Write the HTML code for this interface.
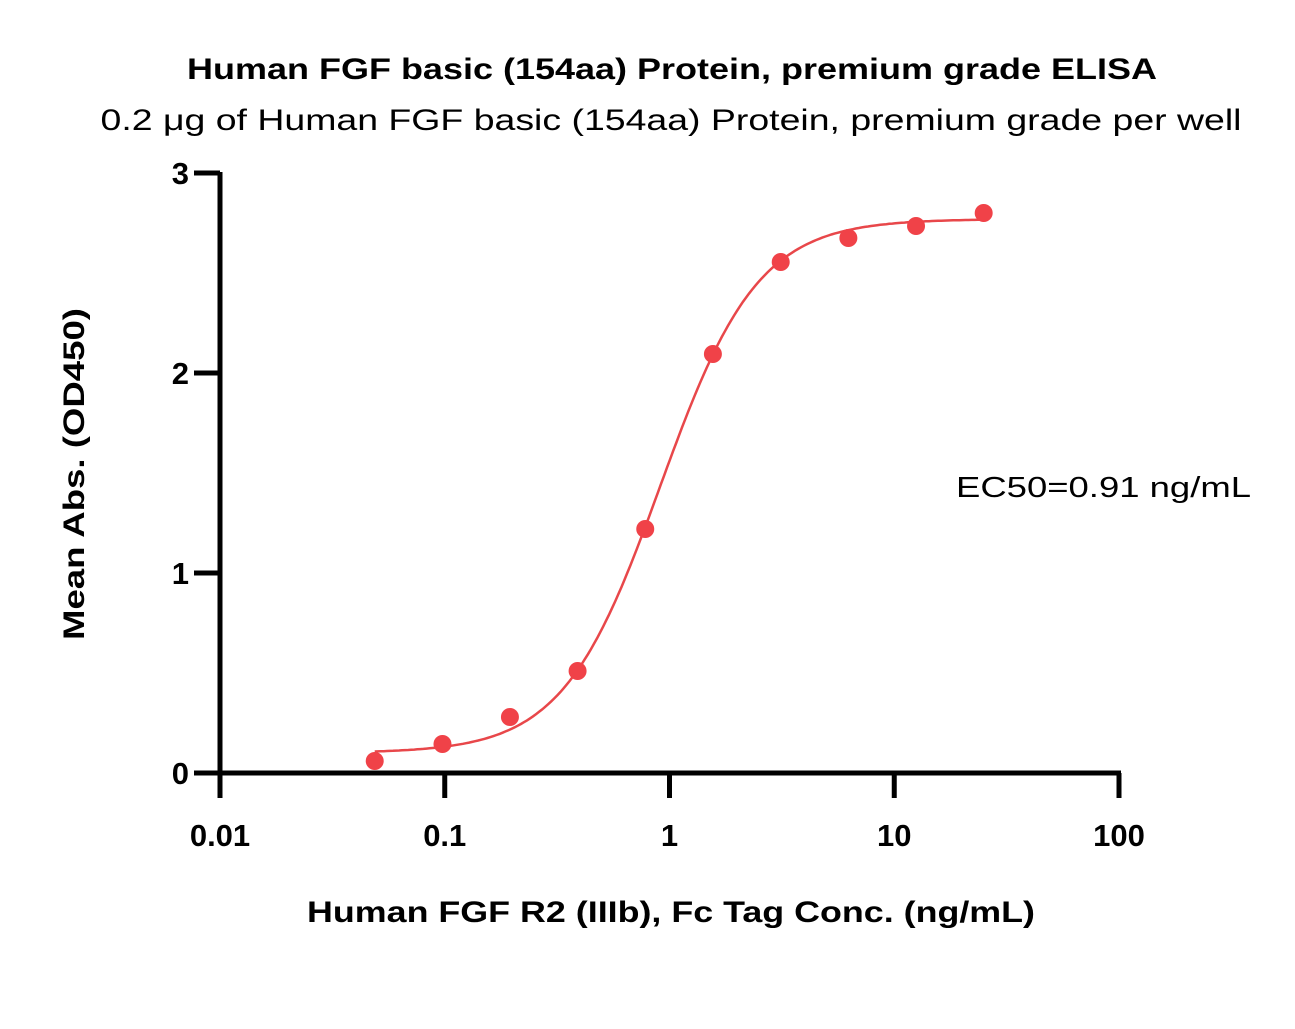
<!DOCTYPE html>
<html><head><meta charset="utf-8"><style>body{margin:0;background:#fff}svg{display:block}text{font-family:"Liberation Sans",sans-serif}</style></head>
<body>
<svg id="chart" width="1295" height="1029" xmlns="http://www.w3.org/2000/svg">
<text x="672" y="79" text-anchor="middle" font-size="30" font-weight="bold" textLength="970" lengthAdjust="spacingAndGlyphs">Human FGF basic (154aa) Protein, premium grade ELISA</text>
<text x="671" y="130" text-anchor="middle" font-size="30" textLength="1141" lengthAdjust="spacingAndGlyphs">0.2 μg of Human FGF basic (154aa) Protein, premium grade per well</text>
<text transform="translate(84,474) rotate(-90)" text-anchor="middle" font-size="30" font-weight="bold" textLength="332" lengthAdjust="spacingAndGlyphs">Mean Abs. (OD450)</text>
<text x="671" y="922" text-anchor="middle" font-size="30" font-weight="bold" textLength="728" lengthAdjust="spacingAndGlyphs">Human FGF R2 (IIIb), Fc Tag Conc. (ng/mL)</text>
<text x="956" y="497" font-size="29" textLength="295" lengthAdjust="spacingAndGlyphs">EC50=0.91 ng/mL</text>
<g id="axes"></g><g id="marks"></g>
</svg>
<script>
const xTicks=[0.01,0.1,1,10,100];
const xTickLabels=["0.01","0.1","1","10","100"];
const yTicks=[0,1,2,3];
const yTickLabels=["0","1","2","3"];
const conc=[0.0488,0.0977,0.195,0.39,0.78,1.56,3.125,6.25,12.5,25];
const absorb=[0.06,0.145,0.28,0.51,1.22,2.095,2.555,2.675,2.735,2.8];
const fitBottom=0.1, fitTop=2.77, fitEC50=0.91, fitHill=2.0;
const NS="http://www.w3.org/2000/svg";
const X=v=>220+(Math.log10(v)+2)*224.75;
const Y=v=>773-v*200;
const ax=document.getElementById('axes'), mk=document.getElementById('marks');
function el(t,a,p){const e=document.createElementNS(NS,t);for(const k in a)e.setAttribute(k,a[k]);p.appendChild(e);return e;}
let e=el('line',{x1:220,y1:Y(3)-1,x2:220,y2:775,stroke:'#000','stroke-width':5},ax);


e=el('line',{x1:218,y1:773,x2:1121,y2:773,stroke:'#000','stroke-width':5},ax);


xTicks.forEach((t,i)=>{
 let l=el('line',{x1:X(t),y1:773,x2:X(t),y2:798,stroke:'#000','stroke-width':5},ax);
 
 
 let tx=el('text',{x:X(t),y:846,'text-anchor':'middle','font-size':31,'font-weight':'bold'},ax);
 tx.textContent=xTickLabels[i];
 
 
});
yTicks.forEach((t,i)=>{
 let l=el('line',{x1:194,y1:Y(t),x2:220,y2:Y(t),stroke:'#000','stroke-width':5},ax);
 
 
 let tx=el('text',{x:189,y:Y(t)+11,'text-anchor':'end','font-size':31,'font-weight':'bold'},ax);
 tx.textContent=yTickLabels[i];
 
 
});
let d='';
const lo=Math.log10(conc[0]),hi=Math.log10(conc[conc.length-1]);
for(let i=0;i<=200;i++){const lx=lo+(hi-lo)*i/200,c=Math.pow(10,lx);
 const v=fitBottom+(fitTop-fitBottom)/(1+Math.pow(fitEC50/c,fitHill));
 d+=(i?'L':'M')+X(c).toFixed(1)+' '+Y(v).toFixed(1);}
e=el('path',{d:d,fill:'none',stroke:'#e8474a','stroke-width':2.5},mk);


conc.forEach((c,i)=>{
 let p=el('circle',{cx:X(c),cy:Y(absorb[i]),r:9,fill:'#f04248'},mk);
 
 
});
</script>
</body></html>
